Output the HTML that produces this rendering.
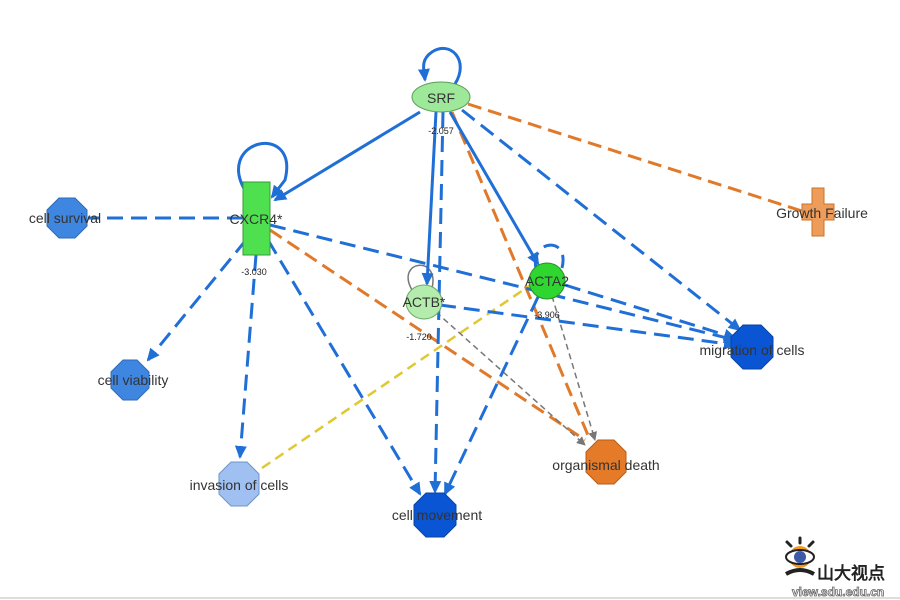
<!DOCTYPE html>
<html><head><meta charset="utf-8"><style>body{margin:0;background:#fff}svg{display:block}text{font-family:"Liberation Sans",sans-serif}</style></head><body>
<svg width="900" height="600" viewBox="0 0 900 600">
<defs>
<marker id="b" markerWidth="14" markerHeight="14" refX="11" refY="7" orient="auto" markerUnits="userSpaceOnUse"><path d="M0,1 L13,7 L0,13 z" fill="#1f6fd6"/></marker>
<marker id="g" markerWidth="9" markerHeight="9" refX="8" refY="4.5" orient="auto" markerUnits="userSpaceOnUse"><path d="M0,0 L9,4.5 L0,9 z" fill="#777"/></marker>
<marker id="to" markerWidth="4" markerHeight="14" refX="2" refY="7" orient="auto" markerUnits="userSpaceOnUse"><rect width="2" height="14" fill="#e07a2a"/></marker>
<marker id="ty" markerWidth="4" markerHeight="14" refX="2" refY="7" orient="auto" markerUnits="userSpaceOnUse"><rect width="2" height="14" fill="#e0c830"/></marker>
</defs>
<g fill="none" stroke-width="3">
<g stroke="#e07a2a" stroke-dasharray="14,7">
<path d="M468,104 L805,212" marker-end="url(#to)"/>
<path d="M452,112 L590,440"/>
<path d="M270,230 L585,440"/>
</g>
<path d="M262,468 L535,282" stroke="#e0c830" stroke-width="2.5" stroke-dasharray="10,6" marker-end="url(#ty)"/>
<g stroke="#777" stroke-width="1.5" stroke-dasharray="6,4">
<path d="M436,312 L585,445" marker-end="url(#g)"/>
<path d="M552,296 L595,440" marker-end="url(#g)"/>
</g>
<path d="M412,290 C395,260 440,255 432,288" stroke="#777" stroke-width="1.5"/>
<g stroke="#1f6fd6">
<path d="M420,112 L275,200" marker-end="url(#b)"/>
<path d="M436,112 L427,284" marker-end="url(#b)"/>
<path d="M450,112 L538,264" marker-end="url(#b)"/>
<path d="M455,84 C470,60 450,40 432,52 C420,60 424,70 425,80" marker-end="url(#b)"/>
<path d="M248,195 C210,140 300,120 285,180 L272,197" marker-end="url(#b)"/>
</g>
<g stroke="#1f6fd6" stroke-dasharray="16,8">
<path d="M443,112 L435,492" marker-end="url(#b)"/>
<path d="M462,110 L740,330" marker-end="url(#b)"/>
<path d="M243,218 L88,218"/>
<path d="M246,240 L148,360" marker-end="url(#b)"/>
<path d="M256,255 L240,457" marker-end="url(#b)"/>
<path d="M268,240 L420,494" marker-end="url(#b)"/>
<path d="M270,225 L735,340" marker-end="url(#b)"/>
<path d="M440,305 L735,345" marker-end="url(#b)"/>
<path d="M565,285 L735,338" marker-end="url(#b)"/>
<path d="M538,297 L445,494" marker-end="url(#b)"/>
<path d="M536,268 C530,240 570,235 562,268"/>
</g>
</g>
<ellipse cx="441" cy="97" rx="29" ry="15" fill="#9ee89a" stroke="#5b9d58"/>
<rect x="243" y="182" width="27" height="73" fill="#4fe04f" stroke="#3a9a3a"/>
<ellipse cx="424" cy="302" rx="18" ry="17" fill="#b3ecac" stroke="#6ba866"/>
<circle cx="547" cy="281" r="18" fill="#2fd62f" stroke="#2a8f2a"/>
<path d="M812,188h12v16h10v16h-10v16h-12v-16h-10v-16h10z" fill="#ee9c5a" stroke="#c8732c"/>
<g stroke-width="1">
<polygon points="59,198 75,198 87,210 87,226 75,238 59,238 47,226 47,210" fill="#3f86e0" stroke="#2d6bbb"/>
<polygon points="123,360 137,360 149,372 149,388 137,400 123,400 111,388 111,372" fill="#3f86e0" stroke="#2d6bbb"/>
<polygon points="231,462 247,462 259,474 259,494 247,506 231,506 219,494 219,474" fill="#9fc0f0" stroke="#6f95c8"/>
<polygon points="426,493 444,493 456,505 456,525 444,537 426,537 414,525 414,505" fill="#0a55d4" stroke="#0a44a0"/>
<polygon points="598,440 614,440 626,452 626,472 614,484 598,484 586,472 586,452" fill="#e57a28" stroke="#b55d18"/>
<polygon points="743,325 761,325 773,337 773,357 761,369 743,369 731,357 731,337" fill="#0a55d4" stroke="#0a44a0"/>
</g>
<g font-size="14" fill="#333" text-anchor="middle">
<text x="441" y="103">SRF</text>
<text x="256" y="224">CXCR4*</text>
<text x="424" y="307">ACTB*</text>
<text x="547" y="286">ACTA2</text>
<text x="822" y="218">Growth Failure</text>
<text x="65" y="223">cell survival</text>
<text x="133" y="385">cell viability</text>
<text x="239" y="490">invasion of cells</text>
<text x="437" y="520">cell movement</text>
<text x="606" y="470">organismal death</text>
<text x="752" y="355">migration of cells</text>
</g>
<g font-size="9" fill="#222" text-anchor="middle">
<text x="441" y="134">-2.057</text>
<text x="254" y="275">-3.030</text>
<text x="419" y="340">-1.720</text>
<text x="547" y="318">-3.906</text>
</g>
<g stroke="#222" stroke-width="3" stroke-linecap="round">
<line x1="800" y1="538" x2="800" y2="543"/>
<line x1="787" y1="542" x2="791" y2="546"/>
<line x1="813" y1="542" x2="809" y2="546"/>
</g>
<circle cx="800" cy="557" r="11" fill="#f39a1e"/>
<ellipse cx="800" cy="557" rx="14" ry="7" fill="#fff" stroke="#222" stroke-width="2"/>
<circle cx="800" cy="557" r="6" fill="#3c5aa8"/>
<path d="M786,574 q14,-8 28,0" stroke="#222" stroke-width="4" fill="none"/>
<text x="817" y="579" font-size="17" font-weight="bold" fill="#222" font-family="'Noto Sans CJK SC',sans-serif">山大视点</text>
<text x="792" y="596" font-size="12" font-weight="bold" fill="#fff" stroke="#666" stroke-width="0.8">view.sdu.edu.cn</text>
<line x1="0" y1="598" x2="900" y2="598" stroke="#ddd" stroke-width="2"/>
</svg>
</body></html>
